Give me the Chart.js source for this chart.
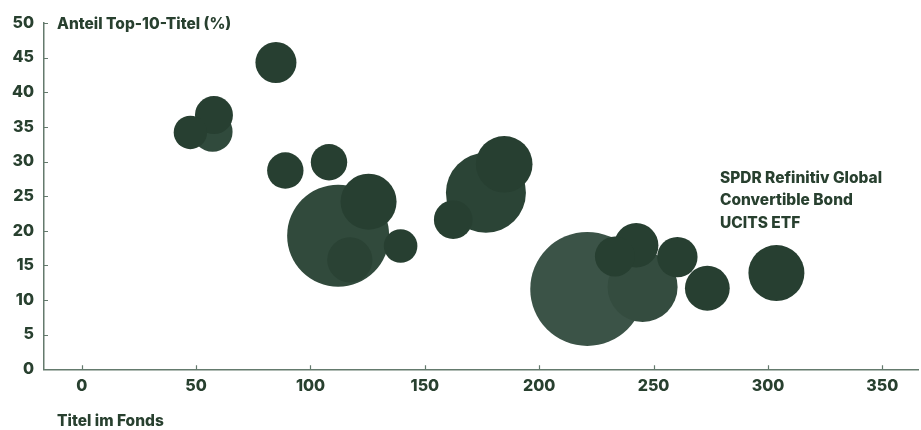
<!DOCTYPE html>
<html lang="de">
<head>
<meta charset="utf-8">
<title>Anteil Top-10-Titel vs. Titel im Fonds</title>
<script src="https://cdn.jsdelivr.net/npm/chart.js@4.4.1/dist/chart.umd.min.js"></script>
<style>
  html, body { margin: 0; padding: 0; background: #ffffff; }
  #wrap { width: 921px; height: 430px; position: relative; }
</style>
</head>
<body>
<div id="wrap"><canvas id="chart"></canvas></div>
<script>
// Fonds: Anzahl Titel im Fonds, Anteil der Top-10-Titel (%), Blasengröße (px)
const titelImFonds = [221.0, 112.1, 176.7, 245.2, 184.7, 125.4, 303.7, 117.2, 242.4, 273.5, 84.9, 57.2, 233.1, 260.4, 162.4, 57.8, 89.0, 108.1, 47.5, 139.4];
const anteilTop10  = [11.6, 19.3, 25.5, 11.9, 29.6, 24.2, 13.9, 15.8, 17.9, 11.7, 44.3, 34.3, 16.3, 16.2, 21.6, 36.7, 28.7, 29.9, 34.2, 17.8];
const blasenGroesse = [57, 51, 40, 35, 28.3, 28, 28, 22.6, 22.2, 22.4, 20.5, 20, 20, 20.2, 19.3, 19, 18.2, 18.2, 16.7, 16.8];
const blasenFarbe = ['#3b5347', '#314a3c', '#2b4436', '#344c3f', '#273f31', '#273f31', '#273f31', '#2a4234', '#273f31', '#273f31',
                     '#273f31', '#304a3c', '#273f31', '#273f31', '#273f31', '#273f31', '#273f31', '#273f31', '#273f31', '#273f31'];

const xTicks = [0, 50, 100, 150, 200, 250, 300, 350];
const yTicks = [0, 5, 10, 15, 20, 25, 30, 35, 40, 45, 50];

const yTitel = 'Anteil Top-10-Titel (%)';
const xTitel = 'Titel im Fonds';
const hinweisZeilen = ['SPDR Refinitiv Global', 'Convertible Bond', 'UCITS ETF'];

const textFarbe = '#28402f';
const achsenFarbe = '#647a6d';
const schrift = 'Inter, "Noto Sans", sans-serif';

const punkte = titelImFonds.map((x, i) => ({ x: x, y: anteilTop10[i], r: blasenGroesse[i] }));

// Kurze Teilstriche, die von den Achsen nach innen zeigen, plus Achsentitel und Hinweis
const beschriftung = {
  id: 'beschriftung',
  afterDatasetsDraw(chart) {
    const { ctx, chartArea, scales } = chart;
    const xs = scales.x, ys = scales.y;
    ctx.save();
    ctx.strokeStyle = achsenFarbe;
    ctx.lineWidth = 1.2;
    ctx.beginPath();
    xTicks.forEach(v => {
      const px = Math.round(xs.getPixelForValue(v)) + 0.5;
      ctx.moveTo(px, chartArea.bottom);
      ctx.lineTo(px, chartArea.bottom - 4);
    });
    yTicks.forEach(v => {
      const py = Math.round(ys.getPixelForValue(v)) + 0.5;
      ctx.moveTo(chartArea.left, py);
      ctx.lineTo(chartArea.left + 4, py);
    });
    ctx.stroke();

    ctx.fillStyle = textFarbe;
    ctx.font = '800 15.5px ' + schrift;
    ctx.textAlign = 'left';
    ctx.textBaseline = 'middle';
    ctx.fillText(yTitel, chartArea.left + 13, ys.getPixelForValue(50) + 1);
    ctx.fillText(xTitel, chartArea.left + 13, chartArea.bottom + 52);

    const hx = xs.getPixelForValue(279);
    let hy = ys.getPixelForValue(27.6);
    hinweisZeilen.forEach(z => {
      ctx.fillText(z, hx, hy);
      hy += 22.5;
    });
    ctx.restore();
  }
};

new Chart(document.getElementById('chart'), {
  type: 'bubble',
  data: {
    datasets: [{
      label: 'Fonds',
      data: punkte,
      backgroundColor: blasenFarbe,
      hoverBackgroundColor: blasenFarbe,
      borderWidth: 0,
      hoverBorderWidth: 0,
      clip: false
    }]
  },
  options: {
    responsive: true,
    maintainAspectRatio: false,
    animation: false,
    layout: { autoPadding: false, padding: { top: 23, right: 3, left: 0, bottom: 0 } },
    plugins: { legend: { display: false }, tooltip: { enabled: false } },
    scales: {
      x: {
        type: 'linear',
        min: -16.5,
        max: 365.6,
        afterFit(scale) { scale.height = 60.7; },
        border: { display: true, color: achsenFarbe, width: 1.5 },
        grid: { display: false, drawTicks: false },
        ticks: {
          stepSize: 50,
          includeBounds: false,
          padding: 7,
          color: textFarbe,
          font: { family: schrift, size: 16, weight: '800' }
        }
      },
      y: {
        type: 'linear',
        min: 0,
        max: 50,
        afterFit(scale) { scale.width = 44; },
        border: { display: true, color: achsenFarbe, width: 1.5 },
        grid: { display: false, drawTicks: false },
        ticks: {
          stepSize: 5,
          padding: 10,
          color: textFarbe,
          font: { family: schrift, size: 16, weight: '800' }
        }
      }
    }
  },
  plugins: [beschriftung]
});
</script>
</body>
</html>
